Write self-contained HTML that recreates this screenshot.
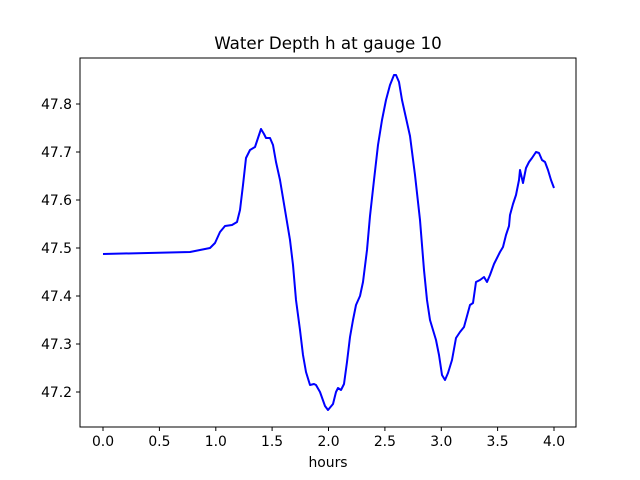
<!DOCTYPE html>
<html><head><meta charset="utf-8"><style>body{margin:0;background:#fff}svg{display:block}text{font-family:"DejaVu Sans","Liberation Sans",sans-serif;fill:#000}</style></head><body>
<svg width="640" height="480" viewBox="0 0 640 480" xmlns="http://www.w3.org/2000/svg">
<rect width="640" height="480" fill="#fff"/>
<text x="328" y="49" font-size="16.7" text-anchor="middle">Water Depth h at gauge 10</text>
<polyline fill="none" stroke="#0000ff" stroke-width="2" stroke-linejoin="round" points="103,254 190,252 210,248 215,243 220,232 225,226 232,225 237,222 240,210 243,185 246,158 250,150 255,147 258,138 261,129 264,134 266,138 270,138 273,145 276,162 280,180 285,210 290,240 293,265 296,300 300,330 303,355 306,372 310,385 314,384 316,385 320,392 325,406 328,410 333,404 336,392 338,388 341,390 344,384 347,362 350,337 353,320 356,305 360,296 363,282 367,250 370,216 374,180 378,145 382,120 386,100 390,85 394,75 396,75 399,82 402,100 406,118 410,136 415,175 420,220 424,270 427,300 430,320 433,330 436,340 439,355 442,375 445,380 448,373 452,360 456,338 460,332 464,327 467,316 470,305 473,303 476,282 480,280 484,277 487,282 490,275 494,264 500,252 503,247 506,235 509,226 510,215 513,204 516,195 519,180 520,170 523,183 526,168 529,162 532,158 536,152 539,153 542,160 545,162 548,170 551,180 554,188"/>
<rect x="80" y="58" width="496" height="369" fill="none" stroke="#000" stroke-width="1"/>
<g stroke="#000" stroke-width="1">
<line x1="103" y1="427" x2="103" y2="431"/><line x1="159.4" y1="427" x2="159.4" y2="431"/><line x1="215.8" y1="427" x2="215.8" y2="431"/><line x1="272.1" y1="427" x2="272.1" y2="431"/><line x1="328.5" y1="427" x2="328.5" y2="431"/><line x1="384.9" y1="427" x2="384.9" y2="431"/><line x1="441.3" y1="427" x2="441.3" y2="431"/><line x1="497.6" y1="427" x2="497.6" y2="431"/><line x1="554" y1="427" x2="554" y2="431"/>
<line x1="76" y1="392" x2="80" y2="392"/><line x1="76" y1="344" x2="80" y2="344"/><line x1="76" y1="296" x2="80" y2="296"/><line x1="76" y1="248" x2="80" y2="248"/><line x1="76" y1="200" x2="80" y2="200"/><line x1="76" y1="152" x2="80" y2="152"/><line x1="76" y1="104" x2="80" y2="104"/>
</g>
<g font-size="13.9" text-anchor="middle">
<text x="103" y="446">0.0</text><text x="159.4" y="446">0.5</text><text x="215.8" y="446">1.0</text><text x="272.1" y="446">1.5</text><text x="328.5" y="446">2.0</text><text x="384.9" y="446">2.5</text><text x="441.3" y="446">3.0</text><text x="497.6" y="446">3.5</text><text x="554" y="446">4.0</text>
<text x="328" y="467">hours</text>
</g>
<g font-size="13.9" text-anchor="end">
<text x="72" y="397">47.2</text><text x="72" y="349">47.3</text><text x="72" y="301">47.4</text><text x="72" y="253">47.5</text><text x="72" y="205">47.6</text><text x="72" y="157">47.7</text><text x="72" y="109">47.8</text>
</g>
</svg>
</body></html>
